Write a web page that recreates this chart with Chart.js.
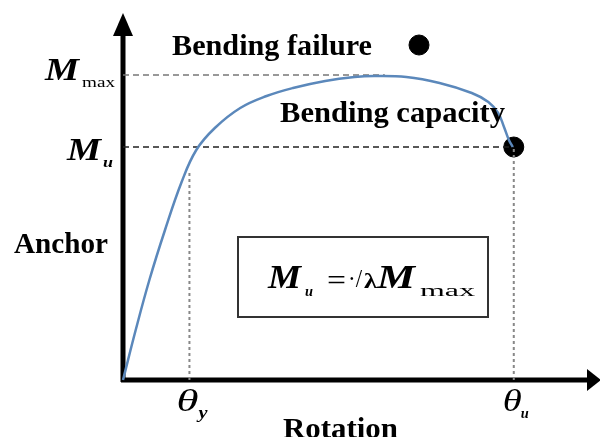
<!DOCTYPE html>
<html>
<head>
<meta charset="utf-8">
<script src="https://cdn.jsdelivr.net/npm/chart.js@4"></script>
<style>
  html, body { margin: 0; padding: 0; background: #fff; }
  #wrap { width: 600px; height: 437px; }
</style>
</head>
<body>
<div id="wrap"><canvas id="grafik"></canvas></div>
<script>
// ---- data (rotation / moment) ----
const curveX = [0, 13, 27, 43, 60, 75, 94, 120, 147, 174, 207, 237, 257, 290, 324, 357, 374, 384, 390, 395, 399];
const curveY = [0, 50, 100, 150, 198, 230, 252, 272, 284, 292, 299, 303, 304, 303, 297, 287, 278, 267, 253, 240, 233];

const mMax = 305;      // M max level
const mU = 233;        // M u level
const thetaY = 68;     // yield rotation
const thetaU = 400;    // ultimate rotation
const mMaxLineEnd = 268;
const thetaYLineTop = 210;

const failureX = [303];
const failureY = [335];
const capacityX = [thetaU];
const capacityY = [mU];

const yTickLabels = [["M", "max"], ["M", "u"]];
const xTickLabels = [["θ", "y"], ["θ", "u"]];

const serif = '"Liberation Serif", "Times New Roman", serif';

function pts(xs, ys) {
    return xs.map((x, i) => ({ x: x, y: ys[i] }));
}

// draw text stretched/squeezed to a given width
function txt(ctx, s, x, y, font, w) {
    ctx.save();
    ctx.font = font;
    const m = ctx.measureText(s).width;
    ctx.translate(x, y);
    if (w) ctx.scale(w / m, 1);
    ctx.fillText(s, 0, 0);
    ctx.restore();
}

// axes with arrow heads
const axesPlugin = {
    id: "axes",
    beforeDatasetsDraw(chart) {
        const ctx = chart.ctx;
        const xs = chart.scales.x, ys = chart.scales.y;
        const x0 = xs.getPixelForValue(0), y0 = ys.getPixelForValue(0);
        ctx.save();
        ctx.strokeStyle = "#000";
        ctx.fillStyle = "#000";
        ctx.lineWidth = 5;
        ctx.beginPath();
        ctx.moveTo(x0, y0 + 2);
        ctx.lineTo(x0, 32);
        ctx.moveTo(x0 - 2, y0);
        ctx.lineTo(590, y0);
        ctx.stroke();
        ctx.beginPath();
        ctx.moveTo(x0, 13);
        ctx.lineTo(x0 - 10, 36);
        ctx.lineTo(x0 + 10, 36);
        ctx.closePath();
        ctx.fill();
        ctx.beginPath();
        ctx.moveTo(601, y0);
        ctx.lineTo(587, y0 - 11);
        ctx.lineTo(587, y0 + 11);
        ctx.closePath();
        ctx.fill();
        ctx.restore();
    }
};

// labels, tick names and the formula box
const labelPlugin = {
    id: "labels",
    afterDraw(chart) {
        const ctx = chart.ctx;
        const xs = chart.scales.x, ys = chart.scales.y;
        ctx.save();
        ctx.fillStyle = "#000";

        txt(ctx, "Bending failure", 172, 55, "bold 29px " + serif, 200);
        txt(ctx, "Bending capacity", 280, 122, "bold 29px " + serif, 225);
        txt(ctx, "Anchor", 14, 253, "bold 29px " + serif, 94);
        txt(ctx, "Rotation", 283, 438, "bold 29px " + serif, 115);

        // y tick names
        const yMax = ys.getPixelForValue(mMax);
        const yU = ys.getPixelForValue(mU);
        txt(ctx, yTickLabels[0][0], 45, yMax + 5, "italic bold 32px " + serif, 34);
        txt(ctx, yTickLabels[0][1], 82, yMax + 12, "15px " + serif, 33);
        txt(ctx, yTickLabels[1][0], 67, yU + 13, "italic bold 32px " + serif, 34);
        txt(ctx, yTickLabels[1][1], 103, yU + 20, "italic bold 15px " + serif, 10);

        // x tick names
        const xY = xs.getPixelForValue(thetaY);
        const xU = xs.getPixelForValue(thetaU);
        txt(ctx, xTickLabels[0][0], xY - 13, 411, "italic 31px " + serif, 22);
        txt(ctx, xTickLabels[0][1], xY + 9, 418, "italic bold 16px " + serif, 9);
        txt(ctx, xTickLabels[1][0], xU - 11, 411, "italic 31px " + serif, 19);
        txt(ctx, xTickLabels[1][1], xU + 7, 418, "italic bold 15px " + serif, 8);

        // formula box
        ctx.strokeStyle = "#333";
        ctx.lineWidth = 2;
        ctx.strokeRect(238, 237, 250, 80);
        txt(ctx, "M", 268, 288, "italic bold 33px " + serif, 33);
        txt(ctx, "u", 305, 296, "italic bold 14px " + serif, 8);
        txt(ctx, "=", 327, 290, "30px " + serif, 19);
        txt(ctx, "·/", 348, 287, "26px " + serif, 14);
        txt(ctx, "λ", 364, 288, "bold 22px " + serif, 13);
        txt(ctx, "M", 377, 288, "italic bold 33px " + serif, 38);
        txt(ctx, "max", 420, 296, "16px " + serif, 55);
        ctx.restore();
    }
};

new Chart(document.getElementById("grafik"), {
    type: "line",
    data: {
        datasets: [
            {
                data: pts(curveX, curveY),
                borderColor: "#5b88bb",
                borderWidth: 2.5,
                pointRadius: 0,
                tension: 0.4,
                clip: false
            },
            {
                data: pts([0, mMaxLineEnd], [mMax, mMax]),
                borderColor: "#777",
                borderWidth: 1.5,
                borderDash: [6, 4],
                pointRadius: 0,
                clip: false
            },
            {
                data: pts([0, thetaU], [mU, mU]),
                borderColor: "#222",
                borderWidth: 1.5,
                borderDash: [6, 4],
                pointRadius: 0,
                clip: false
            },
            {
                data: pts([thetaY, thetaY], [0, thetaYLineTop]),
                borderColor: "#888",
                borderWidth: 2,
                borderDash: [3, 3],
                pointRadius: 0,
                clip: false
            },
            {
                data: pts([thetaU, thetaU], [0, mU]),
                borderColor: "#888",
                borderWidth: 2,
                borderDash: [3, 3],
                pointRadius: 0,
                clip: false
            },
            {
                type: "scatter",
                data: pts(failureX.concat(capacityX), failureY.concat(capacityY)),
                backgroundColor: "#000",
                borderColor: "#000",
                pointRadius: 10,
                clip: false
            }
        ]
    },
    options: {
        responsive: true,
        maintainAspectRatio: false,
        animation: false,
        layout: { padding: { left: 123, right: 0, top: 15, bottom: 57 } },
        plugins: { legend: { display: false }, tooltip: { enabled: false } },
        scales: {
            x: { type: "linear", min: 0, max: 477, display: false },
            y: { type: "linear", min: 0, max: 365, display: false }
        }
    },
    plugins: [axesPlugin, labelPlugin]
});
</script>
</body>
</html>
